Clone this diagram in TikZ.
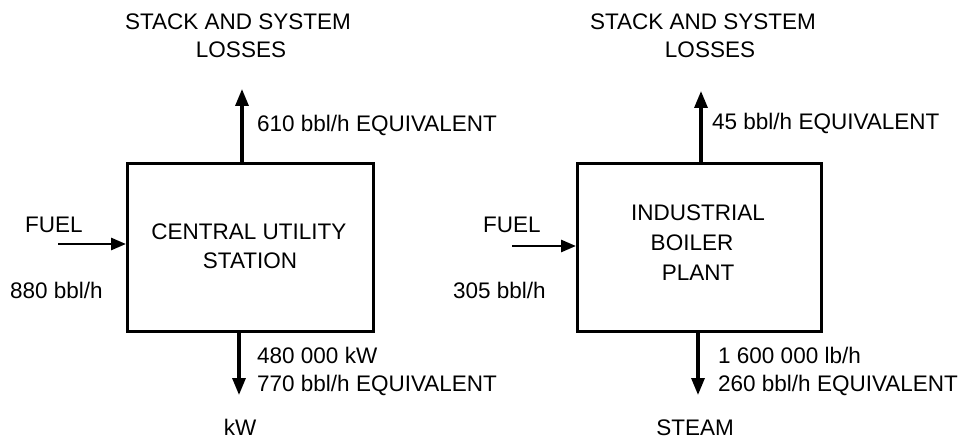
\documentclass[tikz,border=0pt]{standalone}
\usepackage{fontspec}
\setmainfont{Liberation Sans}
\usetikzlibrary{arrows.meta}
\begin{document}
\begin{tikzpicture}[x=1pt,y=-1pt,
  lbl/.style={inner sep=0pt,font=\fontsize{22.5}{28}\selectfont},
  boxst/.style={draw,line width=3.2pt,inner sep=0pt,anchor=north west},
  flow/.style={line width=3.2pt,-{Triangle[length=17pt,width=13pt]}},
  fuelflow/.style={line width=2.8pt,-{Triangle[length=15pt,width=12pt]}}]
\useasboundingbox (0,0) rectangle (965,438);
% boxes
\node[boxst,minimum width=246pt,minimum height=168pt] (b1) at (126,162) {};
\node[boxst,minimum width=244pt,minimum height=168pt] (b2) at (576,162) {};
% box texts
\node[lbl,anchor=base] (c1) at (249,240) {CENTRAL UTILITY};
\node[lbl,anchor=base] (c2) at (250,268) {STATION};
\node[lbl,anchor=base] (i1) at (698,220) {INDUSTRIAL};
\node[lbl,anchor=base] (i2) at (692,251) {BOILER};
\node[lbl,anchor=base] (i3) at (698,280) {PLANT};
% top labels
\node[lbl,anchor=base] (s1) at (238,30) {STACK AND SYSTEM};
\node[lbl,anchor=base] (s1b) at (241,58) {LOSSES};
\node[lbl,anchor=base] (s2) at (703,30) {STACK AND SYSTEM};
\node[lbl,anchor=base] (s2b) at (710,58) {LOSSES};
% top arrows
\coordinate (t1) at (242,89);
\coordinate (t2) at (701,91);
\draw[flow] (b1.north -| t1) -- (t1);
\draw[flow] (b2.north -| t2) -- (t2);
\node[lbl,anchor=base west] (e1) at (257,132) {610 bbl/h EQUIVALENT};
\node[lbl,anchor=base west] (e2) at (712,130) {45 bbl/h EQUIVALENT};
% fuel
\node[lbl,anchor=base west] (f1) at (25,233) {FUEL};
\node[lbl,anchor=base west] (f2) at (483,233) {FUEL};
\coordinate (fa1) at (58,244);
\coordinate (fa2) at (512,246);
\draw[fuelflow] (fa1) -- (fa1 -| b1.west);
\draw[fuelflow] (fa2) -- (fa2 -| b2.west);
\node[lbl,anchor=base west] (r1) at (10,298) {880 bbl/h};
\node[lbl,anchor=base west] (r2) at (453,298) {305 bbl/h};
% bottom arrows
\coordinate (d1) at (239,395);
\coordinate (d2) at (698,395);
\draw[flow] (b1.south -| d1) -- (d1);
\draw[flow] (b2.south -| d2) -- (d2);
\node[lbl,anchor=base west] (o1) at (257,363) {480 000 kW};
\node[lbl,anchor=base west] (o1b) at (257,391) {770 bbl/h EQUIVALENT};
\node[lbl,anchor=base west] (o2) at (718,363) {1 600 000 lb/h};
\node[lbl,anchor=base west] (o2b) at (718,391) {260 bbl/h EQUIVALENT};
\node[lbl,anchor=base] (k1) at (240,435) {kW};
\node[lbl,anchor=base] (k2) at (695,435) {STEAM};
\end{tikzpicture}
\end{document}
